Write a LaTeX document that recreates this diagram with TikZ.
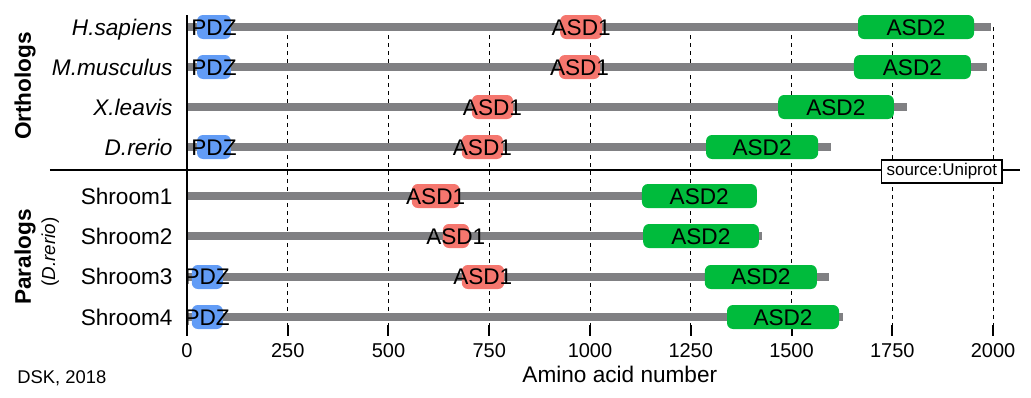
\documentclass[tikz,border=0pt]{standalone}
\usepackage{fontspec}
\setmainfont{Liberation Sans}

\definecolor{protgray}{RGB}{128,128,131}
\definecolor{pdzblue}{RGB}{98,156,246}
\definecolor{asdred}{RGB}{245,118,110}
\definecolor{asdgreen}{RGB}{0,187,60}

\tikzset{
  prot/.style={line width=4.3pt, protgray},
  dom/.style={rounded corners=3pt},
  pdz/.style={dom, fill=pdzblue},
  asdone/.style={dom, fill=asdred},
  asdtwo/.style={dom, fill=asdgreen},
  domlabel/.style={inner sep=0pt, text height=8pt, text depth=0pt,
                   font=\fontsize{11.3}{13}\selectfont},
  rowlabel/.style={domlabel, anchor=east},
  grouplabel/.style={inner sep=0pt, text height=8pt, text depth=0pt,
                     rotate=90, font=\fontsize{11.3}{13}\selectfont\bfseries},
  gridline/.style={line width=0.5pt, dash pattern=on 2pt off 2pt},
  tickmark/.style={line width=1pt},
  ticklabel/.style={inner sep=0pt, text height=7.2pt, text depth=0pt,
                    font=\fontsize{10}{12}\selectfont},
}

\begin{document}
\begin{tikzpicture}[x=0.2015pt, y=-0.5pt]
\useasboundingbox (-464,0) rectangle (2094.3,398);

% grid and ticks
\foreach \t in {250,500,...,2000}{
  \draw[gridline] (\t,27) -- (\t,325);
  \draw[tickmark] (\t,325) -- (\t,336);
}
\foreach \t in {0,250,...,2000}
  \node[ticklabel] (tick\t) at (\t,350) {\t};
\node[domlabel] (xlabel) at (1074,375) {Amino acid number};

% separator between orthologs and paralogs
\draw[line width=0.8pt] (-340,170) -- (2067,170);
\node[draw, line width=0.8pt, fill=white, inner xsep=2.5pt, inner ysep=0pt,
      minimum height=11.5pt, font=\fontsize{8.5}{10}\selectfont]
  (source) at (1873,171.5) {source:Uniprot};

% protein backbones
\draw[prot] (0, 27) -- (1995, 27);
\draw[prot] (0, 67) -- (1985, 67);
\draw[prot] (0,107) -- (1787,107);
\draw[prot] (0,147) -- (1598,147);
\draw[prot] (0,196) -- (1410,196);
\draw[prot] (0,236) -- (1427,236);
\draw[prot] (0,277) -- (1593,277);
\draw[prot] (0,317) -- (1628,317);

% domains, orthologs
\fill[pdz]    (  25, 15) rectangle ( 109, 39);
\fill[asdone] ( 926, 15) rectangle (1030, 39);
\fill[asdtwo] (1665, 15) rectangle (1953, 39);
\fill[pdz]    (  25, 55) rectangle ( 109, 79);
\fill[asdone] ( 923, 55) rectangle (1025, 79);
\fill[asdtwo] (1655, 55) rectangle (1945, 79);
\fill[asdone] ( 707, 95) rectangle ( 809,119);
\fill[asdtwo] (1467, 95) rectangle (1754,119);
\fill[pdz]    (  25,135) rectangle ( 109,159);
\fill[asdone] ( 682,135) rectangle ( 784,159);
\fill[asdtwo] (1288,135) rectangle (1566,159);

% domains, paralogs
\fill[asdone] ( 558,184) rectangle ( 677,208);
\fill[asdtwo] (1129,184) rectangle (1414,208);
\fill[asdone] ( 635,224) rectangle ( 700,248);
\fill[asdtwo] (1132,224) rectangle (1419,248);
\fill[pdz]    (  12,265) rectangle (  89,289);
\fill[asdone] ( 682,265) rectangle ( 787,289);
\fill[asdtwo] (1285,265) rectangle (1563,289);
\fill[pdz]    (  12,305) rectangle (  89,329);
\fill[asdtwo] (1340,305) rectangle (1618,329);

% domain names
\node[domlabel] (hsPDZ)  at (  67, 27) {PDZ};
\node[domlabel] (hsASD1) at ( 978, 27) {ASD1};
\node[domlabel] (hsASD2) at (1809, 27) {ASD2};
\node[domlabel] (mmPDZ)  at (  67, 67) {PDZ};
\node[domlabel] (mmASD1) at ( 974, 67) {ASD1};
\node[domlabel] (mmASD2) at (1800, 67) {ASD2};
\node[domlabel] (xlASD1) at ( 758,107) {ASD1};
\node[domlabel] (xlASD2) at (1610,107) {ASD2};
\node[domlabel] (drPDZ)  at (  67,147) {PDZ};
\node[domlabel] (drASD1) at ( 733,147) {ASD1};
\node[domlabel] (drASD2) at (1427,147) {ASD2};
\node[domlabel] (sh1ASD1) at ( 617,196) {ASD1};
\node[domlabel] (sh1ASD2) at (1271,196) {ASD2};
\node[domlabel] (sh2ASD1) at ( 667,236) {ASD1};
\node[domlabel] (sh2ASD2) at (1275,236) {ASD2};
\node[domlabel] (sh3PDZ)  at (  50,277) {PDZ};
\node[domlabel] (sh3ASD1) at ( 734,277) {ASD1};
\node[domlabel] (sh3ASD2) at (1424,277) {ASD2};
\node[domlabel] (sh4PDZ)  at (  50,317) {PDZ};
\node[domlabel] (sh4ASD2) at (1479,317) {ASD2};

% row names
\node[rowlabel] (hs)  at (-35, 27) {\itshape H.sapiens};
\node[rowlabel] (mm)  at (-35, 67) {\itshape M.musculus};
\node[rowlabel] (xl)  at (-35,107) {\itshape X.leavis};
\node[rowlabel] (dr)  at (-35,147) {\itshape D.rerio};
\node[rowlabel] (sh1) at (-35,196) {Shroom1};
\node[rowlabel] (sh2) at (-35,236) {Shroom2};
\node[rowlabel] (sh3) at (-35,277) {Shroom3};
\node[rowlabel] (sh4) at (-35,317) {Shroom4};

% group names
\node[grouplabel] (orth) at (-407, 86) {Orthologs};
\node[grouplabel] (para) at (-407,257) {Paralogs};
\node[grouplabel, font=\fontsize{9.4}{11}\selectfont]
  (parasp) at (-347,252) {(\textit{D.rerio})};

% axis
\draw[tickmark] (0,15) -- (0,336);

\node[inner sep=0pt, anchor=west, text height=6.6pt, text depth=0pt,
      font=\fontsize{9.2}{11}\selectfont] (credit) at (-422,377) {DSK, 2018};
\end{tikzpicture}
\end{document}
